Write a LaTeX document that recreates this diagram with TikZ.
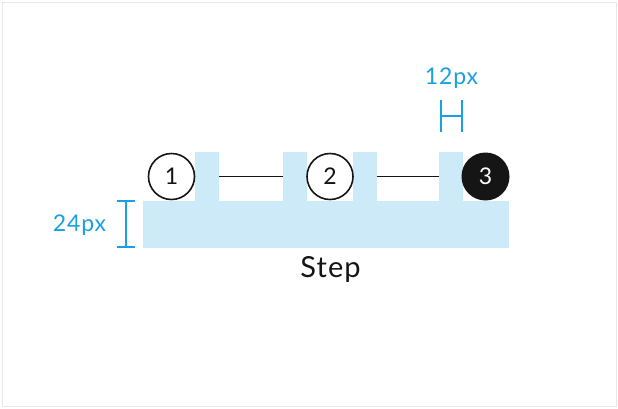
\documentclass[tikz,border=0pt]{standalone}
\usepackage{fontspec}
\setmainfont{Lato}[LetterSpace=4]
\definecolor{tabblue}{HTML}{CCEAF7}
\definecolor{annblue}{HTML}{1AA0DE}
\definecolor{framegray}{HTML}{E8E8E8}
\definecolor{inkblack}{HTML}{151515}
\begin{document}
\begin{tikzpicture}[x=1pt,y=-1pt,
  stepcircle/.style={circle,draw=inkblack,line width=1.6pt,minimum size=46pt,inner sep=0pt,font=\fontsize{23}{23}\selectfont,text=inkblack},
  stepdone/.style={circle,fill=inkblack,minimum size=48pt,inner sep=0pt,font=\fontsize{23}{23}\selectfont,text=white},
  connector/.style={draw=inkblack,line width=1.6pt},
  annot/.style={draw=annblue,line width=1.6pt},
  annlabel/.style={text=annblue,font=\fontsize{23}{23}\selectfont,inner sep=0pt},
  tab/.style={fill=tabblue}]
\useasboundingbox (0,0) rectangle (618,408);
\draw[framegray,line width=1pt] (2,2) rectangle (616,406);
% blue base and tabs
\fill[tabblue] (143,201) rectangle (509,248);
\fill[tabblue] (195,152) rectangle (219,201);
\fill[tabblue] (283,152) rectangle (307,201);
\fill[tabblue] (353,152) rectangle (377,201);
\fill[tabblue] (439,152) rectangle (463,201);
% step circles
\node[stepcircle] (s1) at (171.5,176.5) {1};
\node[stepcircle] (s2) at (330,176.5) {2};
\node[stepdone] (s3) at (485.5,176.5) {3};
\coordinate (a1) at (219,176.5);
\coordinate (b1) at (283,176.5);
\coordinate (a2) at (377,176.5);
\coordinate (b2) at (439,176.5);
\draw[connector] (a1) -- (b1);
\draw[connector] (a2) -- (b2);
% 12px annotation
\coordinate (h1t) at (441,100);
\coordinate (h1b) at (441,132);
\coordinate (h2t) at (462,100);
\coordinate (h2b) at (462,132);
\draw[annot] (h1t) -- (h1b) (h2t) -- (h2b) (441,116) -- (462,116);
\node[annlabel] (l12) at (451.5,78) {12px};
% 24px annotation
\draw[annot] (126,201) -- (126,247) (117,201) -- (135,201) (117,247) -- (135,247);
\node[annlabel] (l24) at (79.5,225) {24px};
% label
\node[font=\fontsize{29}{29}\selectfont,text=inkblack,inner sep=0pt] (lab) at (330.5,269) {Step};
\end{tikzpicture}
\end{document}
